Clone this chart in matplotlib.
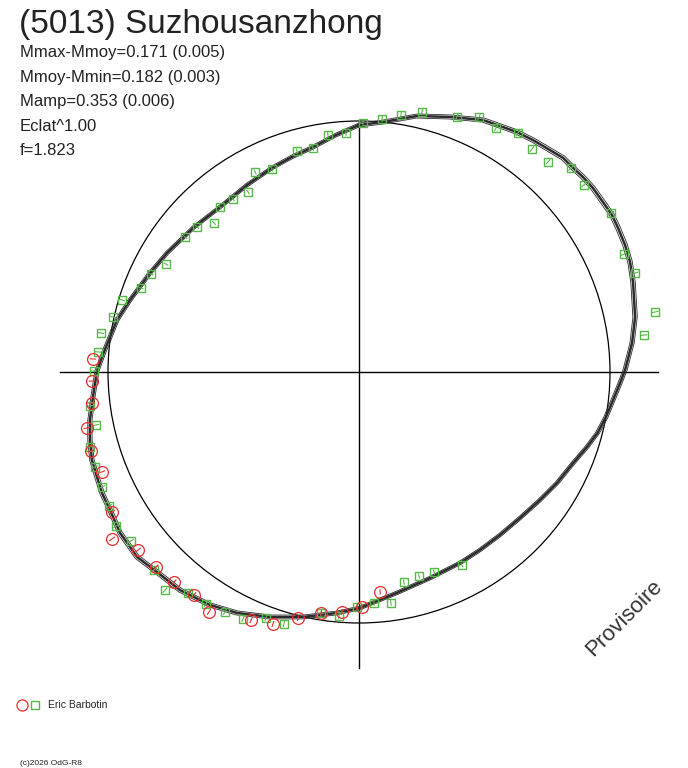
import numpy as np
import matplotlib
matplotlib.use('Agg')
import matplotlib.pyplot as plt
from matplotlib.patches import Circle
from matplotlib.collections import LineCollection

plt.rcParams['font.family'] = ['Liberation Sans', 'DejaVu Sans']

title = '(5013) Suzhousanzhong'
stats = ['Mmax-Mmoy=0.171 (0.005)',
         'Mmoy-Mmin=0.182 (0.003)',
         'Mamp=0.353 (0.006)',
         'Eclat^1.00',
         'f=1.823']
author = 'Eric Barbotin'
credit = '(c)2026 OdG-R8'
stamp = 'Provisoire'

# fitted curve, in units of the reference circle
fit_x = [0.000, -0.092, -0.183, -0.267, -0.347, -0.446, -0.554, -0.661, -0.765,
         -0.833, -0.912, -0.964, -0.992, -1.016, -1.044, -1.060, -1.072, -1.072,
         -1.064, -1.044, -1.024, -0.992, -0.952, -0.884, -0.805, -0.713, -0.594,
         -0.486, -0.355, -0.223, -0.088, 0.004, 0.151, 0.283, 0.323, 0.402, 0.482,
         0.562, 0.641, 0.721, 0.789, 0.853, 0.908, 0.950, 0.984, 1.012, 1.040,
         1.060, 1.088, 1.100, 1.092, 1.080, 1.060, 1.032, 1.008, 0.972, 0.932,
         0.892, 0.849, 0.813, 0.761, 0.693, 0.629, 0.562, 0.494, 0.363, 0.231,
         0.096]
fit_y = [0.984, 0.944, 0.896, 0.857, 0.813, 0.745, 0.657, 0.574, 0.474,
         0.394, 0.287, 0.207, 0.139, 0.080, 0.004, -0.100, -0.191, -0.271,
         -0.351, -0.418, -0.482, -0.550, -0.641, -0.737, -0.797, -0.869, -0.928,
         -0.960, -0.976, -0.976, -0.960, -0.940, -0.880, -0.821, -0.801, -0.761,
         -0.709, -0.649, -0.582, -0.510, -0.442, -0.363, -0.299, -0.243, -0.179,
         -0.112, -0.044, 0.008, 0.116, 0.219, 0.355, 0.438, 0.506, 0.574, 0.625,
         0.677, 0.733, 0.777, 0.817, 0.853, 0.884, 0.924, 0.956, 0.980, 1.004,
         1.016, 1.020, 0.996]

# observations (green squares)
sq_x = [0.016, 0.092, 0.167, 0.251, 0.390, 0.478, 0.546, 0.633, 0.689, 0.753,
        0.845, 0.896, 1.004, 1.056, 1.100, 1.179, 1.135, -0.052, -0.124, -0.183,
        -0.247, -0.347, -0.414, -0.442, -0.502, -0.554, -0.578, -0.645, -0.693,
        -0.769, -0.829, -0.869, -0.944, -0.980, -1.028, -1.040, -1.056, -1.072,
        -1.048, -1.072, -1.052, -1.024, -0.996, -0.968, -0.908, -0.817, -0.773,
        -0.681, -0.610, -0.534, -0.462, -0.371, -0.299, -0.151, -0.080, -0.008,
        0.060, 0.127, 0.179, 0.239, 0.299, 0.410]
sq_y = [0.992, 1.008, 1.024, 1.036, 1.016, 1.016, 0.972, 0.952, 0.888, 0.837,
        0.813, 0.745, 0.633, 0.470, 0.394, 0.239, 0.147, 0.952, 0.944, 0.892,
        0.880, 0.809, 0.797, 0.717, 0.689, 0.657, 0.594, 0.578, 0.538,
        0.430, 0.390, 0.335, 0.287, 0.219, 0.155, 0.080, 0.004, -0.135,
        -0.211, -0.299, -0.378, -0.458, -0.534, -0.614, -0.673, -0.789, -0.869,
        -0.880, -0.924, -0.956, -0.984, -0.980, -1.004, -0.960, -0.972, -0.936,
        -0.920, -0.920, -0.837, -0.813, -0.797, -0.769]

# observations (red circles)
ci_x = [-1.060, -1.064, -1.064, -1.084, -1.068, -1.024, -0.984, -0.984, -0.880,
        -0.809, -0.737, -0.657, -0.598, -0.430, -0.343, -0.243, -0.151, -0.068,
        0.012, 0.084]
ci_y = [0.052, -0.036, -0.124, -0.223, -0.315, -0.398, -0.558, -0.665, -0.709,
        -0.777, -0.837, -0.888, -0.956, -0.988, -1.004, -0.980, -0.960, -0.956,
        -0.936, -0.876]

green = '#55b948'
red = '#ee2b2b'
dark = '#2b2b2b'

W, H = 688, 768
cx, cy, R = 359, 372, 251

fig = plt.figure(figsize=(W / 100, H / 100), dpi=100)
ax = fig.add_axes([0, 0, 1, 1])
ax.set_xlim(-cx / R, (W - cx) / R)
ax.set_ylim((cy - H) / R, cy / R)
ax.axis('off')

# reference circle and axes
ax.add_patch(Circle((0, 0), 1.0, fill=False, lw=0.9, color='black'))
ax.plot([0, 0], [1.004, -1.18], color='black', lw=1.0)
ax.plot([-1.19, 1.19], [0, 0], color='black', lw=1.0)

# fit curve (several overlapping strands)
fx = np.append(fit_x, fit_x[0])
fy = np.append(fit_y, fit_y[0])
ax.plot(fx, fy, color=dark, lw=1.8, solid_joinstyle='round')
for s in (0.992, 1.008):
    ax.plot(fx * s, fy * s, color=dark, lw=0.6, solid_joinstyle='round')

def radial_ticks(xs, ys, color):
    p = np.column_stack([xs, ys])
    segs = np.stack([p * 0.988, p * 1.012], axis=1)
    ax.add_collection(LineCollection(segs, colors=color, lw=0.8))

ax.plot(sq_x, sq_y, 's', ms=6, mfc='none', mec=green, mew=1.0)
radial_ticks(sq_x, sq_y, green)
ax.plot(ci_x, ci_y, 'o', ms=8.5, mfc='none', mec=red, mew=0.9)
radial_ticks(ci_x, ci_y, red)

# texts
def px(x, y):
    return x / W, 1 - y / H

fig.text(*px(19, 33), title, fontsize=24, color='#222222', va='baseline')
for i, s in enumerate(stats):
    fig.text(*px(20, 57 + 24.6 * i), s, fontsize=12, color='#222222', va='baseline')

fig.text(*px(624, 618), stamp, fontsize=16, rotation=45, color='#333333',
         ha='center', va='center', rotation_mode='anchor')

# legend
ax_leg = fig.add_axes([0, 0, 1, 1], facecolor='none')
ax_leg.set_xlim(0, W)
ax_leg.set_ylim(H, 0)
ax_leg.axis('off')
ax_leg.plot([22], [705], 'o', ms=8, mfc='none', mec=red, mew=0.9)
ax_leg.plot([35], [705], 's', ms=6, mfc='none', mec=green, mew=1.0)
fig.text(*px(48, 708.5), author, fontsize=7.5, color='#222222', va='baseline')
fig.text(*px(20, 765), credit, fontsize=6, color='#222222', va='baseline')

fig.savefig('out.png', dpi=100)
